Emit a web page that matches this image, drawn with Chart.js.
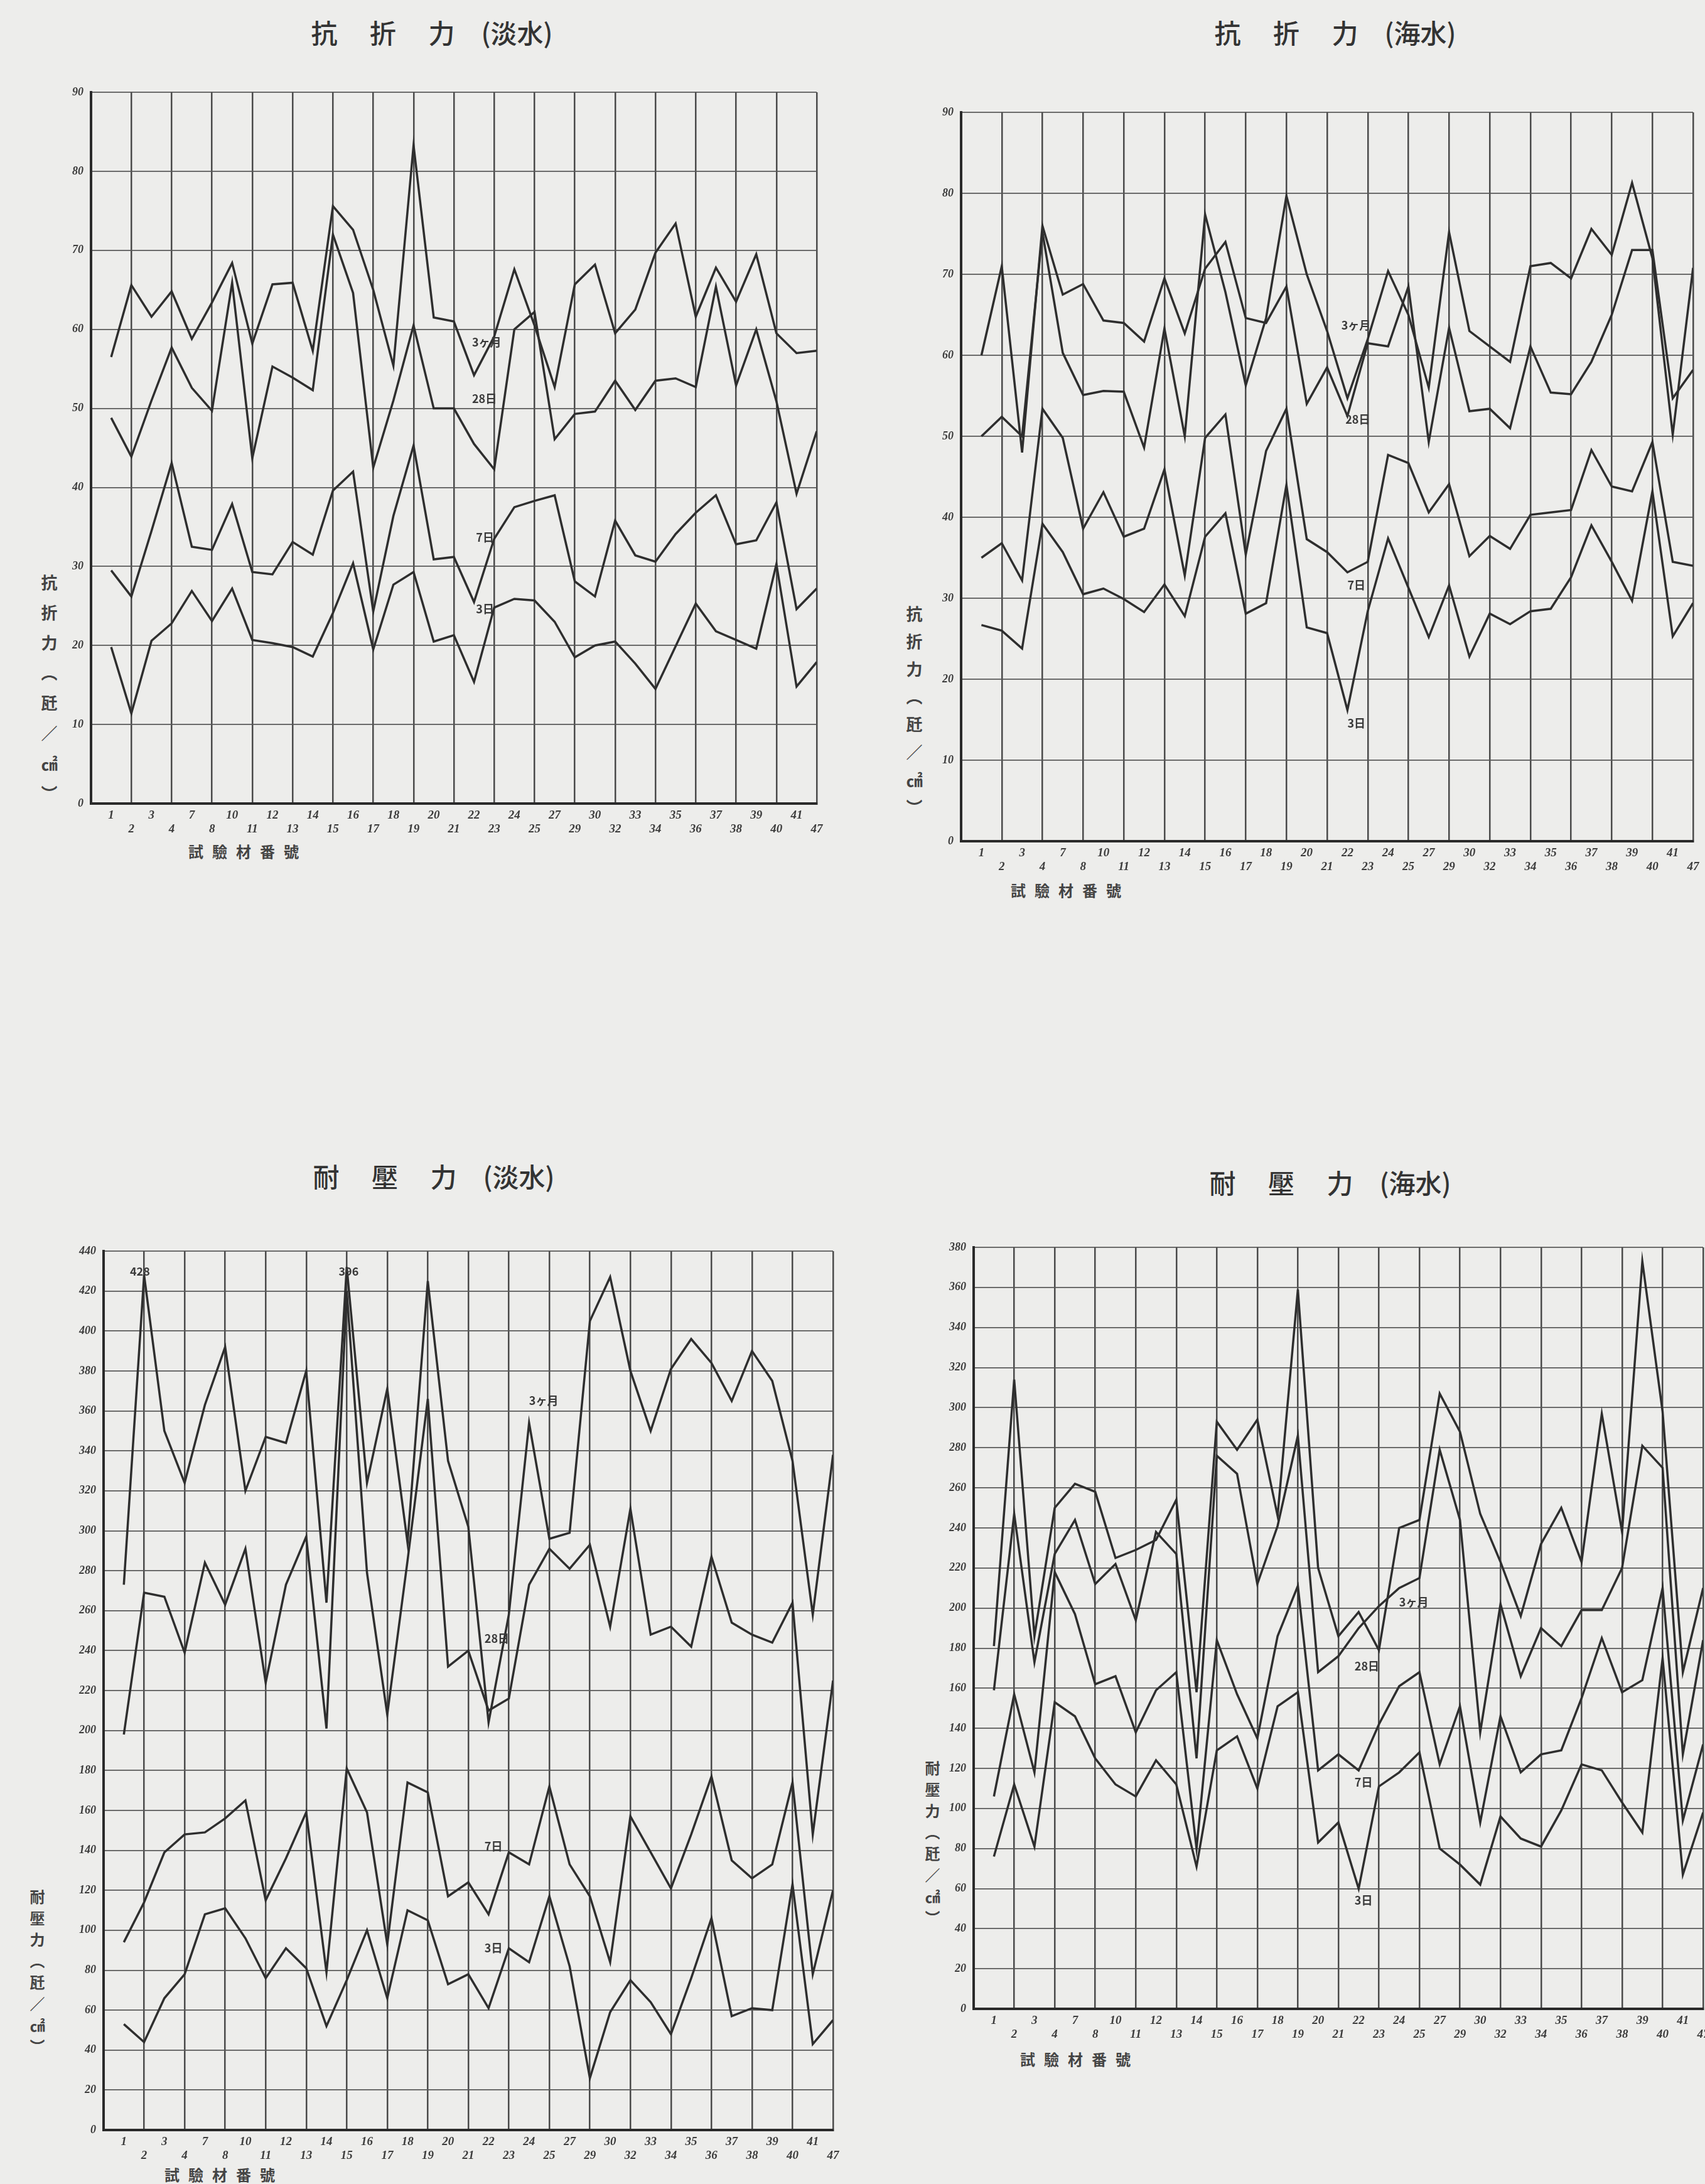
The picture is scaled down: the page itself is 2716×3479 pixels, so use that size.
<!DOCTYPE html>
<html>
<head>
<meta charset="utf-8">
<script src="https://cdn.jsdelivr.net/npm/chart.js@4.4.1/dist/chart.umd.min.js"></script>
<style>
    body { margin: 0; width: 2716px; height: 3479px; background: #ededeb; overflow: hidden; position: relative;
           font-family: "Noto Sans CJK JP", "Noto Sans CJK TC", sans-serif; color: #333; }
    canvas { position: absolute; }
    .ttl { position: absolute; font-size: 42px; font-weight: 500; white-space: pre; transform: translate(-50%, -50%); }
    .ylab { position: absolute; writing-mode: vertical-rl; font-size: 26px; font-weight: 700; color: #444; }
    .xlab { position: absolute; font-size: 24px; font-weight: 700; color: #444; letter-spacing: 14px; white-space: pre; }
</style>
</head>
<body>

<div class="ttl" style="left:688px; top:50px;">抗　 折　 力　(淡水)</div>
<div class="ttl" style="left:2127px; top:50px;">抗　 折　 力　(海水)</div>
<div class="ttl" style="left:691px; top:1872px;">耐　 壓　 力　(淡水)</div>
<div class="ttl" style="left:2119px; top:1882px;">耐　 壓　 力　(海水)</div>

<div class="ylab" style="left:60px; top:915px; letter-spacing:22px;">抗折力（瓩／㎠）</div>
<div class="ylab" style="left:1438px; top:965px; letter-spacing:18px;">抗折力（瓩／㎠）</div>
<div class="ylab" style="left:42px; top:3010px; font-size:24px; letter-spacing:10px;">耐壓力（瓩／㎠）</div>
<div class="ylab" style="left:1468px; top:2805px; font-size:24px; letter-spacing:10px;">耐壓力（瓩／㎠）</div>

<div class="xlab" style="left:300px; top:1338px;">試驗材番號</div>
<div class="xlab" style="left:1610px; top:1400px;">試驗材番號</div>
<div class="xlab" style="left:262px; top:3446px;">試驗材番號</div>
<div class="xlab" style="left:1625px; top:3262px;">試驗材番號</div>

<canvas id="bendFreshChart"></canvas>
<canvas id="bendSeaChart"></canvas>
<canvas id="compFreshChart"></canvas>
<canvas id="compSeaChart"></canvas>

<script>
// 試驗材番號 (x axis)
const sampleNos = ['1', '2', '3', '4', '7', '8', '10', '11', '12', '13', '14', '15', '16', '17', '18', '19', '20', '21',
    '22', '23', '24', '25', '27', '29', '30', '32', '33', '34', '35', '36', '37', '38', '39', '40', '41', '47'];

// 抗折力 (淡水)
const bendFresh3m = [56.5, 65.6, 61.6, 64.8, 58.8, 63.4, 68.4, 58.2, 65.7, 65.9, 57.3, 75.6, 72.6, 65.0, 55.4, 83.3, 61.5, 61.0,
    54.2, 59.1, 67.6, 60.5, 52.7, 65.7, 68.2, 59.5, 62.5, 69.7, 73.4, 61.6, 67.8, 63.5, 69.5, 59.5, 57.0, 57.3];
const bendFresh28d = [48.8, 43.9, 51.0, 57.7, 52.6, 49.7, 65.9, 43.7, 55.3, 53.9, 52.3, 72.0, 64.6, 42.5, 51.0, 60.5, 50.0, 50.0,
    45.5, 42.3, 60.0, 62.2, 46.1, 49.3, 49.6, 53.5, 49.8, 53.5, 53.8, 52.7, 65.4, 52.9, 60.0, 50.9, 39.2, 47.1];
const bendFresh7d = [29.5, 26.2, 34.5, 43.1, 32.5, 32.1, 37.9, 29.3, 29.0, 33.1, 31.5, 39.6, 42.0, 24.3, 36.4, 45.3, 30.9, 31.2,
    25.5, 33.5, 37.5, 38.3, 39.0, 28.1, 26.2, 35.8, 31.4, 30.6, 34.1, 36.8, 39.0, 32.8, 33.3, 38.1, 24.6, 27.2];
const bendFresh3d = [19.8, 11.4, 20.6, 22.8, 26.9, 23.1, 27.2, 20.7, 20.3, 19.8, 18.6, 24.1, 30.4, 19.5, 27.7, 29.3, 20.5, 21.3,
    15.4, 24.8, 25.9, 25.7, 23.0, 18.5, 20.0, 20.5, 17.7, 14.5, 19.9, 25.3, 21.8, 20.7, 19.6, 30.3, 14.8, 17.9];

// 抗折力 (海水)
const bendSea3m = [50.0, 52.4, 50.0, 75.2, 60.3, 55.1, 55.6, 55.5, 48.6, 63.3, 50.0, 77.4, 67.8, 56.3, 64.6, 79.7, 70.0, 63.0,
    54.7, 62.0, 70.4, 65.0, 56.0, 75.2, 63.0, 61.1, 59.2, 71.0, 71.4, 69.5, 75.6, 72.4, 81.3, 72.0, 50.2, 70.8];
const bendSea28d = [60.0, 71.0, 48.0, 76.0, 67.5, 68.8, 64.3, 64.0, 61.7, 69.5, 62.7, 70.7, 74.0, 64.6, 64.0, 68.5, 54.0, 58.5,
    52.5, 61.5, 61.1, 68.5, 49.3, 63.4, 53.1, 53.4, 51.0, 61.1, 55.4, 55.2, 59.2, 65.0, 73.0, 73.0, 54.7, 58.2];
const bendSea7d = [35.0, 36.8, 32.2, 53.4, 49.8, 38.6, 43.1, 37.6, 38.6, 45.9, 32.8, 49.8, 52.7, 35.4, 48.2, 53.4, 37.3, 35.7,
    33.2, 34.5, 47.7, 46.7, 40.6, 44.1, 35.2, 37.7, 36.1, 40.3, 40.6, 40.9, 48.3, 43.8, 43.2, 49.3, 34.5, 34.0];
const bendSea3d = [26.7, 26.0, 23.8, 39.2, 35.7, 30.5, 31.2, 29.9, 28.3, 31.7, 27.8, 37.6, 40.5, 28.1, 29.4, 44.0, 26.4, 25.7,
    16.2, 28.4, 37.4, 31.3, 25.2, 31.6, 22.8, 28.1, 26.8, 28.4, 28.7, 32.6, 39.0, 34.5, 29.7, 43.2, 25.3, 29.4];

// 耐壓力 (淡水)
const compFresh3m = [273, 428, 350, 324, 363, 392, 320, 347, 344, 380, 264, 432, 324, 371, 294, 425, 335, 302,
    204, 258, 354, 296, 299, 405, 427, 380, 350, 381, 396, 384, 365, 390, 375, 335, 258, 338];
const compFresh28d = [198, 269, 267, 239, 284, 263, 291, 224, 273, 297, 201, 420, 279, 208, 285, 366, 232, 240,
    210, 216, 273, 291, 281, 293, 252, 311, 248, 252, 242, 287, 254, 248, 244, 264, 148, 225];
const compFresh7d = [94, 114, 139, 148, 149, 156, 165, 115, 136, 159, 79, 181, 159, 93, 174, 169, 117, 124,
    108, 139, 133, 172, 133, 117, 84, 157, 139, 121, 148, 177, 135, 126, 133, 174, 78, 120];
const compFresh3d = [53, 44, 66, 78, 108, 111, 96, 76, 91, 81, 52, 75, 100, 66, 110, 105, 73, 78,
    61, 91, 84, 117, 82, 26, 59, 75, 64, 48, 76, 106, 57, 61, 60, 123, 43, 55];

// 耐壓力 (海水)
const compSea3m = [181, 314, 186, 250, 262, 258, 225, 229, 234, 254, 158, 293, 279, 294, 246, 359, 220, 186,
    198, 179, 240, 244, 307, 288, 247, 223, 196, 232, 250, 223, 297, 238, 373, 298, 168, 210];
const compSea28d = [159, 247, 173, 227, 244, 212, 222, 194, 238, 227, 125, 276, 267, 212, 241, 286, 168, 176,
    190, 201, 210, 215, 279, 244, 138, 202, 166, 190, 181, 199, 199, 220, 281, 270, 127, 184];
const compSea7d = [106, 157, 118, 218, 197, 162, 166, 138, 159, 168, 80, 184, 157, 135, 186, 211, 119, 127,
    119, 142, 161, 168, 122, 151, 93, 146, 118, 127, 129, 155, 185, 158, 164, 210, 94, 132];
const compSea3d = [76, 112, 81, 153, 146, 125, 112, 106, 124, 112, 71, 129, 136, 110, 151, 158, 83, 93,
    60, 111, 118, 128, 80, 72, 62, 96, 85, 81, 99, 122, 119, 103, 88, 175, 67, 98];

const seriesNames = ['3ヶ月', '28日', '7日', '3日'];

// little hand written notes next to the lines
const lineNotes = {
    id: 'lineNotes',
    afterDatasetsDraw(chart, args, opts) {
        const ctx = chart.ctx;
        ctx.save();
        ctx.font = 'bold 18px "Noto Sans CJK JP"';
        ctx.fillStyle = '#3a3a3a';
        ctx.textBaseline = 'middle';
        (opts.items || []).forEach(n => {
            ctx.fillText(n.t, chart.scales.x.getPixelForValue(n.x), chart.scales.y.getPixelForValue(n.y));
        });
        ctx.restore();
    }
};

function drawChart(id, plot, yMax, yStep, series, notes) {
    const cv = document.getElementById(id);
    const yW = 70, xH = 70, padTop = 24, padBottom = 6, padRight = 18;
    const w = plot.right - plot.left + yW + padRight;
    const h = plot.bottom - plot.top + padTop + xH + padBottom;
    cv.width = w;
    cv.height = h;
    cv.style.width = w + 'px';
    cv.style.height = h + 'px';
    cv.style.left = (plot.left - yW) + 'px';
    cv.style.top = (plot.top - padTop) + 'px';

    new Chart(cv, {
        type: 'line',
        data: {
            datasets: series.map((vals, k) => ({
                label: seriesNames[k],
                data: vals.map((v, i) => ({x: i + 1, y: v})),
                borderColor: '#2e2e2e',
                borderWidth: 3.5,
                pointRadius: 0,
                tension: 0,
                fill: false
            }))
        },
        options: {
            responsive: false,
            animation: false,
            layout: {padding: {top: padTop, right: padRight, bottom: padBottom, left: 0}},
            plugins: {
                legend: {display: false},
                tooltip: {enabled: false},
                lineNotes: {items: notes}
            },
            scales: {
                x: {
                    type: 'linear',
                    min: 0,
                    max: 36,
                    afterFit(s) { s.height = xH; s.paddingLeft = 0; s.paddingRight = 0; },
                    ticks: {
                        stepSize: 1,
                        autoSkip: false,
                        maxRotation: 0,
                        minRotation: 0,
                        padding: 8,
                        color: '#3c3c3c',
                        font: {family: 'Liberation Serif', style: 'italic', weight: 'bold', size: 19, lineHeight: 1.15},
                        callback: function (val) {
                            const i = Math.round(val);
                            if (i < 1 || i > 36) return '';
                            const lab = sampleNos[i - 1];
                            return i % 2 ? [lab, ''] : ['', lab];
                        }
                    },
                    grid: {
                        color: c => (c.tick && c.tick.value % 2 === 0) ? '#4a4a4a' : 'rgba(0,0,0,0)',
                        lineWidth: 2.5,
                        drawTicks: false
                    },
                    border: {color: '#2a2a2a', width: 4}
                },
                y: {
                    min: 0,
                    max: yMax,
                    afterFit(s) { s.width = yW; s.paddingTop = 0; s.paddingBottom = 0; },
                    ticks: {
                        stepSize: yStep,
                        padding: 12,
                        color: '#3c3c3c',
                        font: {family: 'Liberation Serif', style: 'italic', weight: 'bold', size: 18}
                    },
                    grid: {color: '#595959', lineWidth: 1.8, drawTicks: false},
                    border: {color: '#2a2a2a', width: 4}
                }
            }
        },
        plugins: [lineNotes]
    });
}

window.addEventListener("load", function () {
    drawChart('bendFreshChart', {left: 145, top: 147, right: 1301, bottom: 1280}, 90, 10,
        [bendFresh3m, bendFresh28d, bendFresh7d, bendFresh3d],
        [{x: 18.9, y: 58.4, t: '3ヶ月'}, {x: 18.9, y: 51.2, t: '28日'}, {x: 19.1, y: 33.7, t: '7日'}, {x: 19.1, y: 24.6, t: '3日'}]);

    drawChart('bendSeaChart', {left: 1531, top: 179, right: 2697, bottom: 1340}, 90, 10,
        [bendSea3m, bendSea28d, bendSea7d, bendSea3d],
        [{x: 18.7, y: 63.7, t: '3ヶ月'}, {x: 18.9, y: 52.1, t: '28日'}, {x: 19.0, y: 31.6, t: '7日'}, {x: 19.0, y: 14.6, t: '3日'}]);

    drawChart('compFreshChart', {left: 165, top: 1993, right: 1327, bottom: 3393}, 440, 20,
        [compFresh3m, compFresh28d, compFresh7d, compFresh3d],
        [{x: 21.0, y: 365, t: '3ヶ月'}, {x: 18.8, y: 246, t: '28日'}, {x: 18.8, y: 142, t: '7日'}, {x: 18.8, y: 91, t: '3日'},
         {x: 1.3, y: 430, t: '428'}, {x: 11.6, y: 430, t: '396'}]);

    drawChart('compSeaChart', {left: 1551, top: 1987, right: 2713, bottom: 3200}, 380, 20,
        [compSea3m, compSea28d, compSea7d, compSea3d],
        [{x: 21.0, y: 203, t: '3ヶ月'}, {x: 18.8, y: 171, t: '28日'}, {x: 18.8, y: 113, t: '7日'}, {x: 18.8, y: 54, t: '3日'}]);
});
</script>
</body>
</html>
